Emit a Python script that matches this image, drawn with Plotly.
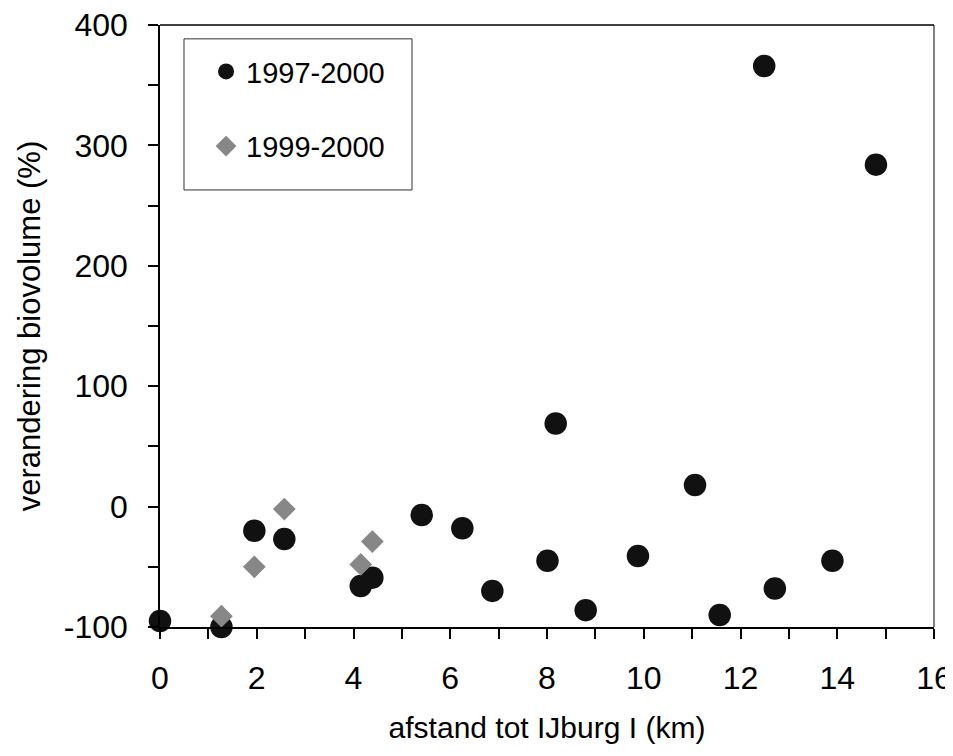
import plotly.graph_objects as go

# 1997-2000 series (black circles)
x_9700 = [0.0, 1.27, 1.95, 2.57, 4.15, 4.39, 5.41, 6.25, 6.87, 8.01, 8.18, 8.8,
          9.88, 11.06, 11.57, 12.49, 12.71, 13.9, 14.8]
y_9700 = [-95, -100, -20, -27, -66, -59, -7, -18, -70, -45, 69, -86,
          -41, 18, -90, 366, -68, -45, 284]

# 1999-2000 series (grey diamonds)
x_9900 = [1.27, 1.95, 2.57, 4.15, 4.39]
y_9900 = [-91, -50, -2, -48, -29]

series_names = ["1997-2000", "1999-2000"]
x_title = "afstand tot IJburg I (km)"
y_title = "verandering biovolume (%)"
x_tickvals = [0, 2, 4, 6, 8, 10, 12, 14, 16]
y_tickvals = [-100, 0, 100, 200, 300, 400]
y_ticktext = ["-100", "0", "100", "200", "300", "400"]

FONT = "Liberation Sans, Arial, sans-serif"

fig = go.Figure()
fig.add_trace(go.Scatter(
    x=x_9700, y=y_9700, mode="markers", name=series_names[0],
    legendgroup="a",
    marker=dict(symbol="circle", size=22.5, color="#111111", line=dict(width=0)),
    cliponaxis=False,
))
fig.add_trace(go.Scatter(
    x=x_9900, y=y_9900, mode="markers", name=series_names[1],
    legendgroup="b",
    marker=dict(symbol="diamond", size=17.5, color="#878787", line=dict(width=0)),
    cliponaxis=False,
))

fig.update_layout(
    width=945, height=740,
    margin=dict(l=152, r=19, t=17, b=121),
    paper_bgcolor="white", plot_bgcolor="white",
    font=dict(family=FONT, color="black"),
    showlegend=True,
    legend=dict(
        x=0.0595, y=0.965, xanchor="left", yanchor="top",
        bgcolor="rgba(0,0,0,0)", borderwidth=0,
        font=dict(size=29, family=FONT, color="black"),
        tracegroupgap=34,
    ),
    shapes=[
        dict(type="rect", xref="paper", yref="paper",
             x0=0.031, x1=0.3256, y0=0.726, y1=0.977,
             line=dict(color="#333333", width=1), fillcolor="rgba(0,0,0,0)"),
        dict(type="line", xref="paper", yref="paper",
             x0=1, x1=1, y0=0, y1=1,
             line=dict(color="#808080", width=2)),
        dict(type="line", xref="paper", yref="paper",
             x0=0, x1=1, y0=1, y1=1,
             line=dict(color="black", width=1.5)),
    ],
)

fig.update_xaxes(
    range=[0, 16], tickvals=x_tickvals,
    showgrid=False, zeroline=False, automargin=False,
    showline=True, linecolor="black", linewidth=1.5,
    ticks="outside", ticklen=10, tickwidth=1.5, tickcolor="black",
    minor=dict(dtick=1, tick0=0, ticks="outside", ticklen=10, tickwidth=1.5, tickcolor="black", showgrid=False),
    tickfont=dict(size=32, family=FONT, color="black"),
    ticklabelstandoff=12, ticklabeloverflow="allow",
    title=dict(text=x_title, font=dict(size=30, family=FONT, color="black"), standoff=22),
)
fig.update_yaxes(
    range=[-100, 400], tickvals=y_tickvals, ticktext=y_ticktext,
    showgrid=False, zeroline=False, automargin=False,
    showline=True, linecolor="black", linewidth=1.5,
    ticks="outside", ticklen=10, tickwidth=1.5, tickcolor="black",
    minor=dict(dtick=50, tick0=0, ticks="outside", ticklen=10, tickwidth=1.5, tickcolor="black", showgrid=False),
    tickfont=dict(size=32, family=FONT, color="black"),
    ticklabelstandoff=14, ticklabeloverflow="allow",
    title=dict(text=y_title, font=dict(size=31, family=FONT, color="black"), standoff=14),
)

fig.write_html("out.html")
